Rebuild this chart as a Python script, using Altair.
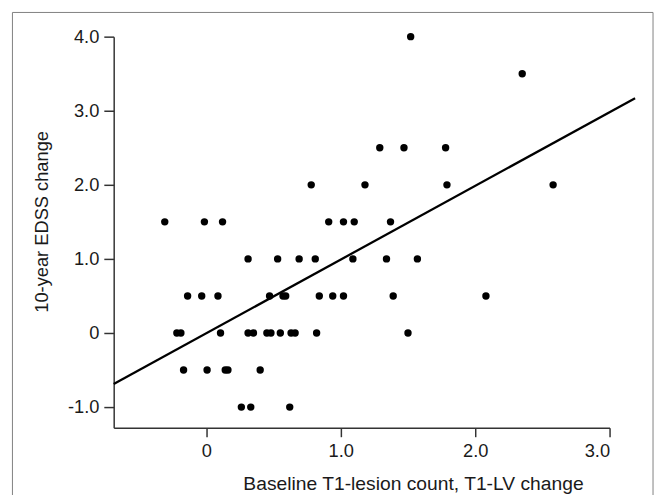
import altair as alt
import pandas as pd

# Data
x_vals = [1.52,
          2.35,
          1.29, 1.47, 1.78,
          0.78, 1.18, 1.79, 2.58,
          -0.31, -0.015, 0.12, 0.91, 1.02, 1.10, 1.37,
          0.31, 0.53, 0.69, 0.81, 1.09, 1.34, 1.57,
          -0.14, -0.035, 0.086, 0.47, 0.57, 0.59, 0.84, 0.94, 1.02, 1.39, 2.08,
          -0.22, -0.19, 0.105, 0.31, 0.35, 0.45, 0.48, 0.55, 0.63, 0.66, 0.82, 1.50,
          -0.17, 0.005, 0.14, 0.16, 0.40,
          0.26, 0.33, 0.62]
y_vals = ([4.0] * 1 + [3.5] * 1 + [2.5] * 3 + [2.0] * 4 + [1.5] * 7 + [1.0] * 7
          + [0.5] * 11 + [0.0] * 12 + [-0.5] * 5 + [-1.0] * 3)

fit_x = [-0.69, 3.19]
fit_y = [-0.69, 3.17]

x_ticks = [0, 1, 2, 3]
y_ticks = [-1, 0, 1, 2, 3, 4]
x_domain = [-0.69, 3.0]
y_domain = [-1.28, 4.0]

pts = pd.DataFrame({"x": x_vals, "y": y_vals})
fit = pd.DataFrame({"x": fit_x, "y": fit_y})

FONT = "Liberation Sans"
label_expr = ("datum.value == 0 ? '0' : (datum.value < 0 ? '-' + format(-datum.value, '.1f')"
              " : format(datum.value, '.1f'))")

xs = alt.Scale(domain=x_domain, nice=False, zero=False)
ys = alt.Scale(domain=y_domain, nice=False, zero=False)

x_axis = alt.Axis(values=x_ticks, labelExpr=label_expr, grid=False,
                  tickSize=9, labelPadding=5, title="Baseline T1-lesion count, T1-LV change",
                  titleX=303, titleY=62, titleBaseline="alphabetic", titleFontSize=19.5)
y_axis = alt.Axis(values=y_ticks, labelExpr=label_expr, grid=False,
                  tickSize=10, labelPadding=5, title="10-year EDSS change",
                  titleX=-67, titleY=187, titleAngle=270, titleBaseline="alphabetic",
                  titleAlign="center", titleFontSize=18.5)

points = alt.Chart(pts).mark_circle(size=56, color="black", opacity=1).encode(
    x=alt.X("x:Q", scale=xs, axis=x_axis),
    y=alt.Y("y:Q", scale=ys, axis=y_axis),
)

line = alt.Chart(fit).mark_line(color="black", strokeWidth=2.3, clip=False).encode(
    x=alt.X("x:Q", scale=xs),
    y=alt.Y("y:Q", scale=ys),
)

one = pd.DataFrame({"a": [0]})
frame_color = "#808080"
frame_top = alt.Chart(one).mark_rule(color=frame_color, strokeWidth=1).encode(
    x=alt.value(-102.5), x2=alt.value(546), y=alt.value(-24.5))
frame_left = alt.Chart(one).mark_rule(color=frame_color, strokeWidth=1).encode(
    x=alt.value(-102.5), y=alt.value(-24.5), y2=alt.value(470))
frame_right = alt.Chart(one).mark_rule(color=frame_color, strokeWidth=1).encode(
    x=alt.value(546), y=alt.value(-24.5), y2=alt.value(470))

chart = alt.layer(line, points, frame_top, frame_left, frame_right).properties(
    width=502, height=396,
    autosize=alt.AutoSizeParams(type="none"),
    padding={"left": 107, "top": 26, "right": 46, "bottom": 65},
).configure_view(stroke=None).configure_axis(
    labelFont=FONT, titleFont=FONT, labelFontSize=18.5, labelColor="#1a1a1a",
    titleColor="#1a1a1a", titleFontWeight="normal",
    domainColor="#333333", domainWidth=1.5, tickColor="#333333", tickWidth=1.5,
)

chart.save("out.html", embed_options={"renderer": "svg", "actions": False})
